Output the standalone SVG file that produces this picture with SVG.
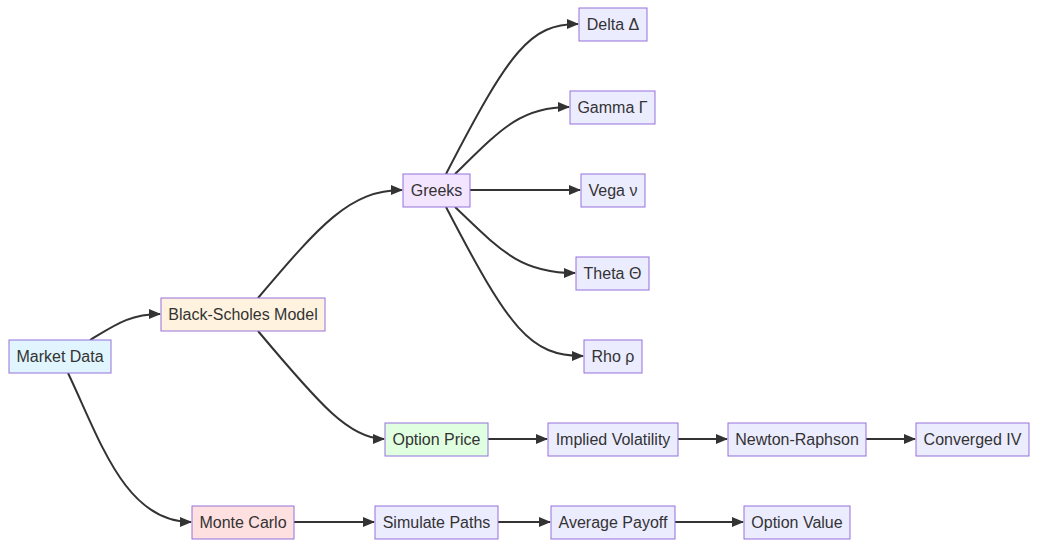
<svg xmlns="http://www.w3.org/2000/svg" width="1038" height="547" viewBox="0 0 1038 547">
<style>
.node rect{stroke:#9370db;stroke-width:1;fill:#ececff}
.node text{font-family:"Liberation Sans",Arial,sans-serif;font-size:16px;fill:#333;text-anchor:middle;dominant-baseline:central}
.edge{fill:none;stroke:#333;stroke-width:2}
</style>
<defs>
<marker id="arr" markerUnits="userSpaceOnUse" markerWidth="12" markerHeight="12" refX="11" refY="6" orient="auto">
<path d="M0,1 L12,6 L0,11 z" fill="#333"/>
</marker>
</defs>
<rect width="1038" height="547" fill="#fff"/>
<g id="connectors">
<path class="edge" marker-end="url(#arr)" d="M90,340 C115,325 130,314 160,314"/>
<path class="edge" marker-end="url(#arr)" d="M68,373 C100,440 125,522 191,522"/>
<path class="edge" marker-end="url(#arr)" d="M258,298 C320,225 350,190 402,190"/>
<path class="edge" marker-end="url(#arr)" d="M258,331 C320,405 350,439 384,439"/>
<path class="edge" marker-end="url(#arr)" d="M446,174 C510,50 530,24 578,24"/>
<path class="edge" marker-end="url(#arr)" d="M455,174 C500,130 520,107 569,107"/>
<path class="edge" marker-end="url(#arr)" d="M470,190 L580,190"/>
<path class="edge" marker-end="url(#arr)" d="M455,207 C500,250 520,273 575,273"/>
<path class="edge" marker-end="url(#arr)" d="M446,207 C510,330 530,356 583,356"/>
<path class="edge" marker-end="url(#arr)" d="M488,439 L547,439"/>
<path class="edge" marker-end="url(#arr)" d="M678,439 L727,439"/>
<path class="edge" marker-end="url(#arr)" d="M866,439 L915,439"/>
<path class="edge" marker-end="url(#arr)" d="M294,522 L374,522"/>
<path class="edge" marker-end="url(#arr)" d="M498,522 L550,522"/>
<path class="edge" marker-end="url(#arr)" d="M675,522 L743,522"/>
</g>
<g id="market-data" class="node"><rect x="9" y="340" width="102" height="33" style="fill:#e1f5fe"/><text x="60" y="356.5">Market Data</text></g>
<g id="black-scholes" class="node"><rect x="161" y="298" width="164" height="33" style="fill:#fff3e0"/><text x="243" y="314.5">Black-Scholes Model</text></g>
<g id="greeks" class="node"><rect x="403" y="174" width="67" height="33" style="fill:#f3e5ff"/><text x="436.5" y="190.5">Greeks</text></g>
<g id="option-price" class="node"><rect x="385" y="423" width="103" height="33" style="fill:#e0ffe0"/><text x="436.5" y="439.5">Option Price</text></g>
<g id="monte-carlo" class="node"><rect x="192" y="506" width="102" height="33" style="fill:#ffe0e0"/><text x="243" y="522.5">Monte Carlo</text></g>
<g id="delta" class="node"><rect x="579" y="8" width="68" height="33"/><text x="613" y="24.5">Delta Δ</text></g>
<g id="gamma" class="node"><rect x="570" y="91" width="85" height="33"/><text x="612.5" y="107.5">Gamma Γ</text></g>
<g id="vega" class="node"><rect x="581" y="174" width="64" height="33"/><text x="613" y="190.5">Vega ν</text></g>
<g id="theta" class="node"><rect x="576" y="257" width="73" height="33"/><text x="612.5" y="273.5">Theta Θ</text></g>
<g id="rho" class="node"><rect x="584" y="340" width="58" height="33"/><text x="613" y="356.5">Rho ρ</text></g>
<g id="implied-vol" class="node"><rect x="548" y="423" width="130" height="33"/><text x="613" y="439.5">Implied Volatility</text></g>
<g id="newton-raphson" class="node"><rect x="728" y="423" width="138" height="33"/><text x="797" y="439.5">Newton-Raphson</text></g>
<g id="converged-iv" class="node"><rect x="916" y="423" width="113" height="33"/><text x="972.5" y="439.5">Converged IV</text></g>
<g id="simulate-paths" class="node"><rect x="375" y="506" width="123" height="33"/><text x="436.5" y="522.5">Simulate Paths</text></g>
<g id="average-payoff" class="node"><rect x="551" y="506" width="124" height="33"/><text x="613" y="522.5">Average Payoff</text></g>
<g id="option-value" class="node"><rect x="744" y="506" width="106" height="33"/><text x="797" y="522.5">Option Value</text></g>
</svg>
